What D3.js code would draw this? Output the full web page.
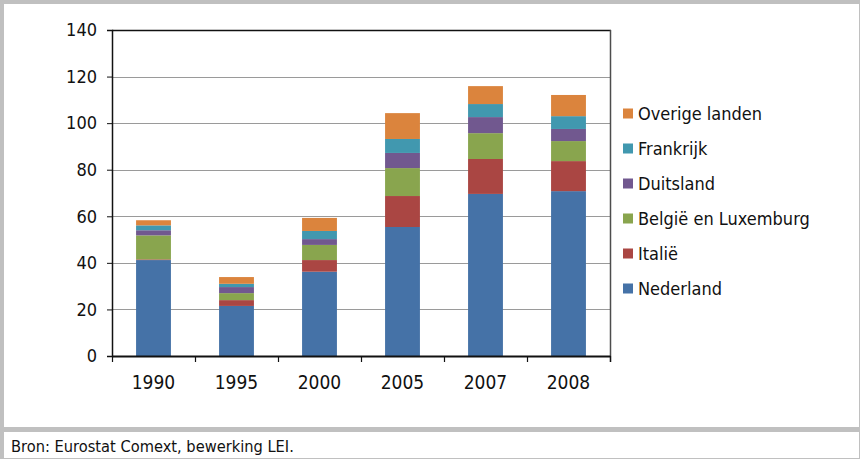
<!DOCTYPE html>
<html>
<head>
<meta charset="utf-8">
<script src="https://cdn.jsdelivr.net/npm/d3@7"></script>
<style>
  html, body { margin: 0; padding: 0; background: #c0c0c0; }
  svg { display: block; }
  text { font-family: "DejaVu Sans Condensed", "Liberation Sans Narrow", sans-serif; fill: #111; }
</style>
</head>
<body>
<svg id="chart" width="860" height="459"></svg>
<script>
// Years on the horizontal axis
const years = ["1990", "1995", "2000", "2005", "2007", "2008"];

// Stacked series, bottom to top
const nederland = [41.2, 21.5, 36.2, 55.4, 69.6, 70.8];
const italie    = [0.3, 2.5, 5.0, 13.3, 15.0, 12.9];
const belgie    = [10.3, 3.0, 6.5, 12.0, 11.1, 8.6];
const duitsland = [2.2, 2.6, 2.5, 6.5, 6.9, 5.2];
const frankrijk = [2.1, 1.4, 3.5, 6.0, 5.6, 5.5];
const overige   = [2.2, 2.9, 5.6, 11.1, 7.7, 9.1];

const seriesNames = ["Nederland", "Italië", "België en Luxemburg", "Duitsland", "Frankrijk", "Overige landen"];
const seriesValues = [nederland, italie, belgie, duitsland, frankrijk, overige];
const seriesColors = ["#4572A7", "#AA4643", "#89A54E", "#71588F", "#4198AF", "#DB843D"];

const yTicks = [0, 20, 40, 60, 80, 100, 120, 140];
const caption = "Bron: Eurostat Comext, bewerking LEI.";

const svg = d3.select("#chart");

// Chart panel and caption panel on the grey frame
svg.append("rect").attr("x", 4).attr("y", 4).attr("width", 855).attr("height", 423).attr("fill", "#fff");
svg.append("rect").attr("x", 4).attr("y", 432).attr("width", 855).attr("height", 26).attr("fill", "#fff");

const plot = { left: 112, right: 610, top: 30, bottom: 356 };

const x = d3.scaleBand().domain(years).range([plot.left, plot.right]).paddingInner(0.58).paddingOuter(0.29);
const xBound = d3.scaleBand().domain(years).range([plot.left, plot.right]);
const y = d3.scaleLinear().domain([0, 140]).range([plot.bottom, plot.top]);

// Table for the stack layout
const rows = years.map((yr, i) => {
  const r = { year: yr };
  seriesNames.forEach((s, k) => { r[s] = seriesValues[k][i]; });
  return r;
});
const stacked = d3.stack().keys(seriesNames)(rows);

// Gridlines
svg.append("g")
  .selectAll("line")
  .data(yTicks.filter(t => t > 0 && t < 140))
  .join("line")
  .attr("x1", plot.left).attr("x2", plot.right)
  .attr("y1", d => Math.round(y(d)) + 0.5).attr("y2", d => Math.round(y(d)) + 0.5)
  .attr("stroke", "#9a9a9a").attr("stroke-width", 1);

// Plot frame: top and right edges
svg.append("line").attr("x1", plot.left).attr("x2", plot.right + 1)
  .attr("y1", plot.top + 0.5).attr("y2", plot.top + 0.5)
  .attr("stroke", "#111").attr("stroke-width", 1.5);
svg.append("line").attr("x1", plot.right + 0.5).attr("x2", plot.right + 0.5)
  .attr("y1", plot.top).attr("y2", plot.bottom + 6)
  .attr("stroke", "#4d4d4d").attr("stroke-width", 1.5);

// Bars
svg.append("g")
  .selectAll("g")
  .data(stacked)
  .join("g")
  .attr("fill", (d, i) => seriesColors[i])
  .selectAll("rect")
  .data(d => d)
  .join("rect")
  .attr("x", d => x(d.data.year))
  .attr("width", x.bandwidth())
  .attr("y", d => y(d[1]))
  .attr("height", d => y(d[0]) - y(d[1]));

// Y axis
const yAxis = svg.append("g")
  .attr("transform", `translate(${plot.left},0)`)
  .call(d3.axisLeft(y).tickValues(yTicks).tickSize(5).tickPadding(10));
yAxis.select(".domain").attr("stroke", "#111").attr("stroke-width", 1.5);
yAxis.selectAll(".tick line").attr("stroke", "#111");
yAxis.selectAll(".tick text").attr("font-size", 18).attr("fill", "#111");

// X axis with ticks at category boundaries
const xAxis = svg.append("g")
  .attr("transform", `translate(0,${plot.bottom})`)
  .call(d3.axisBottom(x).tickSize(0).tickPadding(20));
xAxis.select(".domain").attr("stroke", "#111").attr("stroke-width", 2);
xAxis.selectAll(".tick text").attr("font-size", 19).attr("fill", "#111");
svg.append("g")
  .selectAll("line")
  .data(years.map(yr => xBound(yr)).concat([plot.right]))
  .join("line")
  .attr("x1", d => d + 0.5).attr("x2", d => d + 0.5)
  .attr("y1", plot.bottom).attr("y2", plot.bottom + 6)
  .attr("stroke", "#111").attr("stroke-width", 1.2);

// Legend, top entry is the top series
const legendOrder = seriesNames.map((n, i) => i).reverse();
const legend = svg.append("g")
  .selectAll("g")
  .data(legendOrder)
  .join("g")
  .attr("transform", (d, j) => `translate(623,${113.5 + j * 35})`);
legend.append("rect")
  .attr("x", 0).attr("y", -5).attr("width", 10).attr("height", 10)
  .attr("fill", d => seriesColors[d]);
legend.append("text")
  .attr("x", 15).attr("y", 0).attr("dy", "0.35em")
  .attr("font-size", 18)
  .text(d => seriesNames[d]);

// Source line
svg.append("text")
  .attr("x", 11).attr("y", 452)
  .attr("font-size", 16.3)
  .text(caption);
</script>
</body>
</html>
